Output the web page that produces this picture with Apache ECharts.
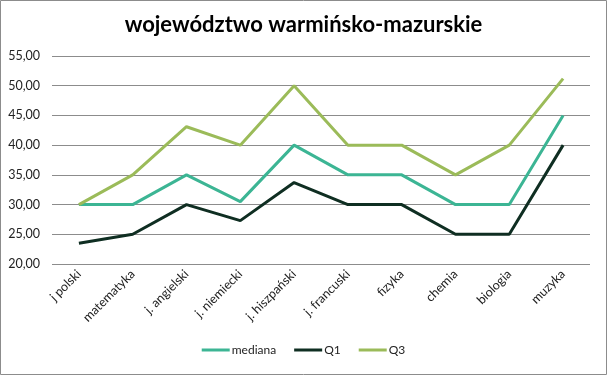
<!DOCTYPE html>
<html>
<head>
<meta charset="utf-8">
<script src="https://cdn.jsdelivr.net/npm/echarts@6/dist/echarts.min.js"></script>
<style>
html,body{margin:0;padding:0;background:#fff;}
#c{width:607px;height:375px;}
</style>
</head>
<body>
<div id="c"></div>
<script>
var categories = ["j polski","matematyka","j. angielski","j. niemiecki","j. hiszpański","j. francuski","fizyka","chemia","biologia","muzyka"];
var mediana = [30, 30, 35, 30.5, 40, 35, 35, 30, 30, 45];
var q1 = [23.5, 25, 30, 27.3, 33.7, 30, 30, 25, 25, 40];
var q3 = [30, 35, 43.1, 40, 50, 40, 40, 35, 40, 51.2];
var yTicks = [20, 25, 30, 35, 40, 45, 50, 55];

var chart = echarts.init(document.getElementById('c'));
var font = 'Lato, "Open Sans", sans-serif';
function mk(name, data, color){
  return {name:name, type:'line', data:data, symbol:'none', smooth:false,
    lineStyle:{color:color, width:3}, itemStyle:{color:color}};
}
chart.setOption({
  animation:false,
  title:{text:'województwo warmińsko-mazurskie', left:'center', top:9,
    textStyle:{fontFamily:font, fontSize:22, fontWeight:'bold', color:'#000'}},
  graphic:[{type:'rect', shape:{x:0.5,y:0.5,width:606,height:374},
    style:{fill:'none', stroke:'#8c8c8c', lineWidth:1}, silent:true}],
  grid:{left:52, right:17, top:56, bottom:111, containLabel:false},
  legend:{bottom:14, left:'center', itemWidth:28, itemHeight:3, itemGap:18,
    icon:'rect',
    textStyle:{fontFamily:font, fontSize:12, color:'#222', padding:[0,0,0,-3]},
    data:['mediana','Q1','Q3']},
  xAxis:{type:'category', data:categories, boundaryGap:true,
    axisLine:{show:false}, axisTick:{show:false},
    axisLabel:{rotate:45, interval:0, margin:8, fontFamily:font, fontSize:12.5, color:'#222'}},
  yAxis:{type:'value', min:yTicks[0], max:yTicks[yTicks.length-1], interval:5,
    axisLine:{show:false}, axisTick:{show:false},
    splitLine:{lineStyle:{color:'#8c8c8c', width:1}},
    axisLabel:{margin:12, fontFamily:font, fontSize:12.5, color:'#222',
      formatter:function(v){return v.toFixed(2).replace('.',',');}}},
  series:[mk('mediana', mediana, '#3cb594'), mk('Q1', q1, '#0f2e22'), mk('Q3', q3, '#9bbb59')]
});
</script>
</body>
</html>
